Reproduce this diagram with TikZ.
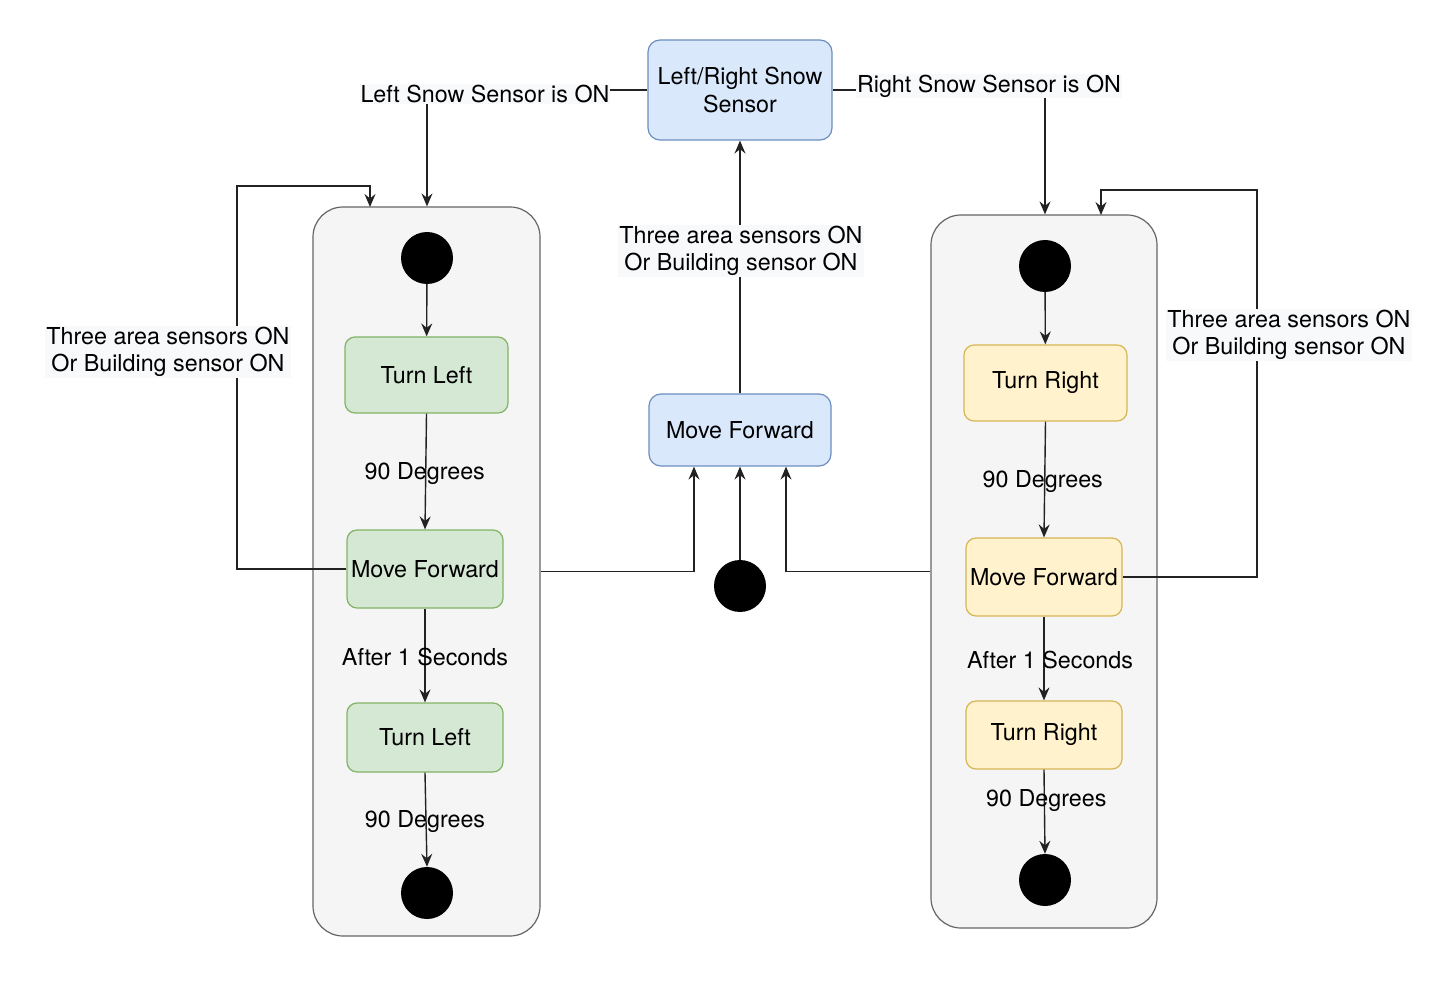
\documentclass[tikz,border=0pt]{standalone}
\usepackage{fontspec}
\setmainfont{TeX Gyre Heros}
\usetikzlibrary{arrows.meta,calc}
\definecolor{greenF}{HTML}{D5E8D4}\definecolor{greenD}{HTML}{82B366}
\definecolor{blueF}{HTML}{DAE8FC}\definecolor{blueD}{HTML}{6C8EBF}
\definecolor{yelF}{HTML}{FFF2CC}\definecolor{yelD}{HTML}{D6B656}
\definecolor{contF}{HTML}{F5F5F5}\definecolor{contD}{HTML}{666666}
\definecolor{lblbg}{HTML}{F8F9FB}
\definecolor{lineC}{HTML}{222222}
\begin{document}
\begin{tikzpicture}[x=1pt,y=-1pt,
  every node/.style={font=\fontsize{23.3}{27.5}\selectfont, inner sep=0pt, align=center},
  container/.style={draw=contD, fill=contF, rounded corners=30pt, line width=1.2pt},
  gstate/.style={draw=greenD, fill=greenF, rounded corners=10pt, line width=1.2pt},
  bstate/.style={draw=blueD, fill=blueF, rounded corners=12pt, line width=1.2pt},
  ystate/.style={draw=yelD, fill=yelF, rounded corners=10pt, line width=1.2pt},
  dotnode/.style={circle, fill=black, minimum size=52pt},
  conn/.style={draw=lineC, line width=1.4pt, -{Stealth[length=13pt,width=11pt,inset=4.5pt]}},
  lbl/.style={fill=lblbg, inner sep=1pt},
  elbl/.style={yshift=-2pt},
]
\useasboundingbox[fill=white] (0,0) rectangle (1444,984);

% containers
\node[container, minimum width=227pt, minimum height=729pt] (lc) at (426.5,571.5) {};
\node[container, minimum width=226pt, minimum height=713pt] (rc) at (1044,571.5) {};

% center column
\node[bstate, minimum width=184pt, minimum height=100pt] (sens) at (740,90) {Left/Right Snow\\Sensor};
\node[bstate, minimum width=182pt, minimum height=72pt] (cmf) at (740,430) {Move Forward};
\node[dotnode] (cdot) at (740,586) {};

% left column
\node[dotnode] (ldot) at (427,258) {};
\node[gstate, minimum width=163pt, minimum height=76pt] (tl1) at (426.5,375) {Turn Left};
\node[gstate, minimum width=156pt, minimum height=78pt] (mf1) at (425,569) {Move Forward};
\node[gstate, minimum width=156pt, minimum height=69pt] (tl2) at (425,737.5) {Turn Left};
\node[dotnode] (ledot) at (427,893) {};

% right column
\node[dotnode] (rdot) at (1045,266) {};
\node[ystate, minimum width=163pt, minimum height=76pt] (tr1) at (1045.5,383) {\raisebox{-2pt}{Turn Right}};
\node[ystate, minimum width=156pt, minimum height=78pt] (mf2) at (1044,577) {Move Forward};
\node[ystate, minimum width=156pt, minimum height=68pt] (tr2) at (1044,735) {\raisebox{-2pt}{Turn Right}};
\node[dotnode] (redot) at (1045,880) {};

% named entry points on containers
\coordinate (lin) at (370,207);
\coordinate (rin) at (1101,215);

% left column connectors
\draw[conn] (ldot) -- (tl1);
\draw[conn] (tl1.south) -- node[elbl, pos=0.5, xshift=-1pt] {90 Degrees} (mf1.north);
\draw[conn] (mf1.south) -- node[elbl, pos=0.5] {After 1 Seconds} (tl2.north);
\draw[conn] (tl2.south) -- node[elbl, pos=0.5, xshift=-1pt] {90 Degrees} (ledot.north);

% right column connectors
\draw[conn] (rdot) -- (tr1);
\draw[conn] (tr1.south) -- node[elbl, pos=0.5, xshift=-2pt] {90 Degrees} (mf2.north);
\draw[conn] (mf2.south) -- node[elbl, pos=0.5, xshift=6pt] {After 1 Seconds} (tr2.north);
\draw[conn] (tr2.south) -- node[elbl, pos=0.34, xshift=2pt] {90 Degrees} (redot.north);

% loops
\draw[conn] (mf1.west) -- (237,569) -- (237,186) -- (370,186) -- (lin)
  node[lbl] at (168,352) {Three area sensors ON\\Or Building sensor ON};
\draw[conn] (mf2.east) -- (1257,577) -- (1257,190) -- (1101,190) -- (rin)
  node[lbl] at (1289,335) {Three area sensors ON\\Or Building sensor ON};

% snow sensor branches
\draw[conn] (sens.west) -- (ldot |- sens.west) -- (ldot |- lc.north)
  node[lbl] at (485,94) {Left Snow Sensor is ON};
\draw[conn] (sens.east) -- (rdot |- sens.east) -- (rdot |- rc.north)
  node[lbl] at (989,86) {Right Snow Sensor is ON};

% center connectors
\draw[conn] (cmf.north) -- (sens.south)
  node[lbl] at (741,251) {Three area sensors ON\\Or Building sensor ON};
\draw[conn] (cdot.north) -- (cmf.south);
\draw[conn] (lc.east) -| ($(cmf.south)+(-46,0)$);
\draw[conn] (rc.west) -| ($(cmf.south)+(46,0)$);
\end{tikzpicture}
\end{document}
